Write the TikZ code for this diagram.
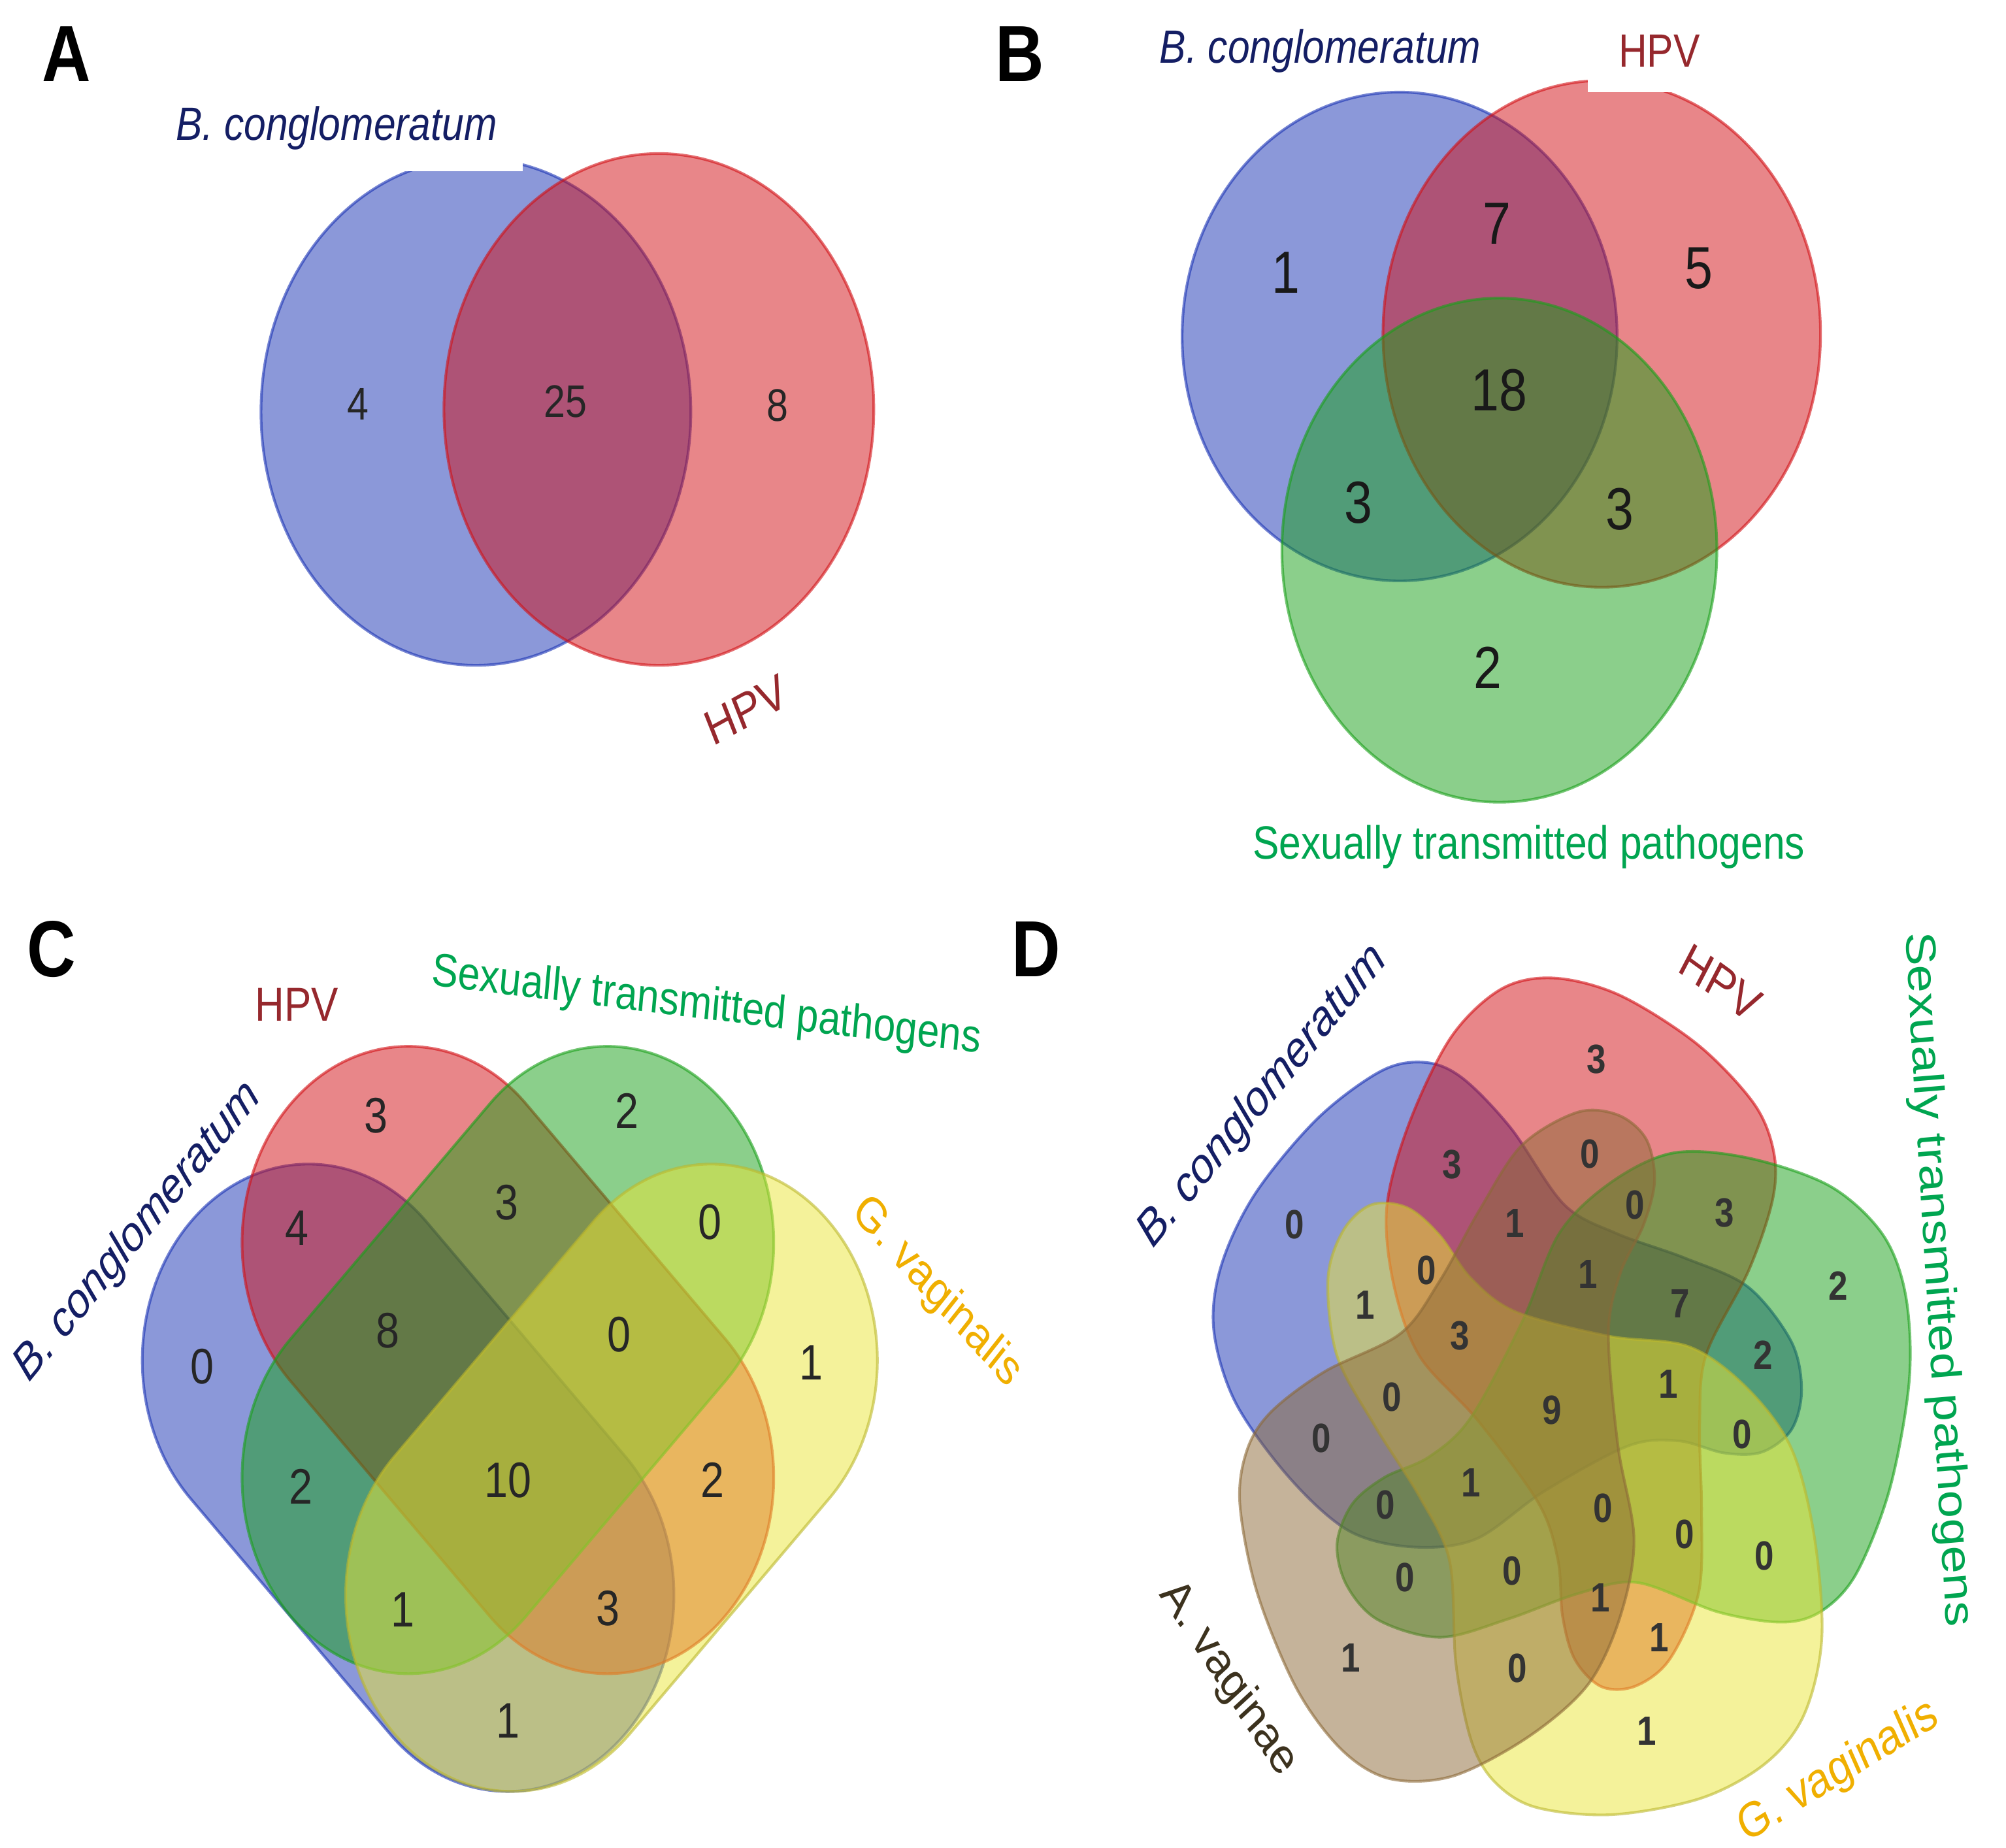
\documentclass[tikz,border=0pt]{standalone}
\usepackage{fontspec}
\setmainfont{Liberation Sans}

\definecolor{vblue}{RGB}{25,50,180}
\definecolor{vred}{RGB}{210,15,20}
\definecolor{vgreen}{RGB}{25,160,25}
\definecolor{vyellow}{RGB}{235,230,55}
\definecolor{vbrown}{RGB}{140,105,55}
\definecolor{tblue}{RGB}{20,30,100}
\definecolor{tred}{RGB}{150,40,45}
\definecolor{tgreen}{RGB}{0,165,80}
\definecolor{tgold}{RGB}{240,175,0}
\definecolor{tbrown}{RGB}{60,50,30}

\tikzset{
 venn/.style={line width=0.6pt, fill opacity=0.5, draw opacity=0.6},
 lbl/.style={yscale=1.18, inner sep=1pt, font=\fontsize{8.8}{10}\selectfont},
 panel/.style={yscale=1.18, font=\fontsize{15}{16}\selectfont\bfseries},
 numA/.style={yscale=1.18, text=black!85, font=\fontsize{8.6}{9}\selectfont},
 numB/.style={yscale=1.18, text=black!90, font=\fontsize{11.2}{12}\selectfont},
 numC/.style={yscale=1.18, text=black!85, font=\fontsize{9.4}{10}\selectfont},
 numD/.style={yscale=1.18, text=black!80, font=\fontsize{7.7}{8}\selectfont\bfseries},
}

% capsule of the four-set diagram (unstretched, around its centre)
\newcommand{\capsulepath}{(-1.1,-1.3) -- (1.1,-1.3) arc[start angle=-90, end angle=90, radius=1.3]
 -- (-1.1,1.3) arc[start angle=90, end angle=270, radius=1.3] -- cycle}

% one petal of the five-set diagram (unstretched, around its centre)
\newcommand{\petalpath}{plot[smooth cycle, tension=0.55] coordinates {
 (-1.41,1.30) (-1.13,1.28) (-0.88,1.10) (-0.63,0.81) (-0.28,0.59) (0.44,0.43)
 (1.07,0.36) (1.52,0.09) (1.87,-0.31) (2.05,-0.89) (2.11,-1.57) (1.97,-2.08)
 (1.67,-2.40) (1.17,-2.63) (0.47,-2.74) (-0.13,-2.69) (-0.45,-2.52) (-0.63,-2.25)
 (-0.75,-1.74) (-0.80,-1.06) (-1.03,-0.64) (-1.38,-0.17) (-1.68,0.30) (-1.75,0.81)
 (-1.63,1.13)}}

\begin{document}
\begin{tikzpicture}
 \fill[white] (0,0) rectangle (15.68,-14.44);
 \useasboundingbox (0,0) rectangle (15.68,-14.44);

 % A
 \node[panel] (pA) at (0.52,-0.42) {A};
 \draw[venn, vblue, fill=vblue] (3.72,-3.22) ellipse (1.68 and 1.98);
 \draw[venn, vred, fill=vred] (5.15,-3.20) ellipse (1.68 and 2.00);
 \node[lbl, text=tblue, fill=white, minimum width=2.91cm, minimum height=0.57cm] (bcA) at (2.63,-1.00) {\itshape B. conglomeratum};
 \node[lbl, text=tred, rotate=25, font=\fontsize{9.3}{10}\selectfont] (hpvA) at (5.83,-5.55) {HPV};
 \node[numA] (a1) at (2.80,-3.16) {4};
 \node[numA] (a2) at (4.42,-3.14) {25};
 \node[numA] (a3) at (6.08,-3.17) {8};

 % B
 \node[panel] (pB) at (7.97,-0.42) {B};
 \draw[venn, vblue, fill=vblue] (10.94,-2.63) ellipse (1.70 and 1.91);
 \draw[venn, vred, fill=vred] (12.52,-2.61) ellipse (1.71 and 1.98);
 \draw[venn, vgreen, fill=vgreen] (11.72,-4.30) ellipse (1.70 and 1.97);
 \node[lbl, text=tblue] (bcB) at (10.32,-0.40) {\itshape B. conglomeratum};
 \node[lbl, text=tred, fill=white, minimum width=1.12cm, minimum height=0.54cm] (hpvB) at (12.97,-0.40) {HPV};
 \node[lbl, text=tgreen] (stpB) at (11.95,-6.62) {Sexually transmitted pathogens};
 \node[numB] (b1) at (10.05,-2.13) {1};
 \node[numB] (b2) at (11.70,-1.75) {7};
 \node[numB] (b3) at (13.28,-2.10) {5};
 \node[numB] (b4) at (11.72,-3.05) {18};
 \node[numB] (b5) at (10.62,-3.93) {3};
 \node[numB] (b6) at (12.66,-3.98) {3};
 \node[numB] (b7) at (11.63,-5.22) {2};

 % C
 \node[panel] (pC) at (0.40,-7.42) {C};
 \begin{scope}[shift={(3.19,-11.55)}, yscale=1.18, rotate=-45]
  \draw[venn, vblue, fill=vblue] \capsulepath;
 \end{scope}
 \begin{scope}[shift={(3.97,-10.63)}, yscale=1.18, rotate=-45]
  \draw[venn, vred, fill=vred] \capsulepath;
 \end{scope}
 \begin{scope}[shift={(3.97,-10.63)}, yscale=1.18, rotate=45]
  \draw[venn, vgreen, fill=vgreen] \capsulepath;
 \end{scope}
 \begin{scope}[shift={(4.78,-11.55)}, yscale=1.18, rotate=45]
  \draw[venn, vyellow!80!black, fill=vyellow] \capsulepath;
 \end{scope}
 \node[lbl, text=tred, font=\fontsize{9}{10}\selectfont] (hpvC) at (2.32,-7.85) {HPV};
 \node[lbl, text=tgreen, rotate=-6] (stpC) at (5.52,-7.87) {Sexually transmitted pathogens};
 \node[lbl, text=tblue, rotate=46, font=\fontsize{9.2}{10}\selectfont] (bcC) at (1.08,-9.63) {\itshape B. conglomeratum};
 \node[lbl, text=tgold, rotate=-43, font=\fontsize{9.2}{10}\selectfont] (gvC) at (7.32,-10.10) {G. vaginalis};
 \node[numC] (c1) at (2.94,-8.72) {3};
 \node[numC] (c2) at (4.90,-8.68) {2};
 \node[numC] (c3) at (2.32,-9.60) {4};
 \node[numC] (c4) at (3.96,-9.40) {3};
 \node[numC] (c5) at (5.55,-9.55) {0};
 \node[numC] (c6) at (1.58,-10.68) {0};
 \node[numC] (c7) at (3.03,-10.40) {8};
 \node[numC] (c8) at (4.84,-10.43) {0};
 \node[numC] (c9) at (6.34,-10.65) {1};
 \node[numC] (c10) at (2.35,-11.62) {2};
 \node[numC] (c11) at (3.97,-11.57) {10};
 \node[numC] (c12) at (5.57,-11.57) {2};
 \node[numC] (c13) at (3.15,-12.58) {1};
 \node[numC] (c14) at (4.75,-12.57) {3};
 \node[numC] (c15) at (3.97,-13.45) {1};

 % D
 \node[panel] (pD) at (8.10,-7.42) {D};
 \begin{scope}[shift={(12.18,-10.95)}, yscale=1.22, rotate=216, scale=0.97, yscale=0.967]
  \draw[venn, vblue, fill=vblue] \petalpath;
 \end{scope}
 \begin{scope}[shift={(12.13,-11.01)}, yscale=1.22, rotate=144, scale=0.965, yscale=0.967]
  \draw[venn, vred, fill=vred] \petalpath;
 \end{scope}
 \begin{scope}[shift={(12.13,-11.01)}, yscale=1.22, rotate=69, yscale=0.967]
  \draw[venn, vgreen, fill=vgreen] \petalpath;
 \end{scope}
 \begin{scope}[shift={(12.13,-10.95)}, yscale=1.18]
  \draw[venn, vyellow!80!black, fill=vyellow] \petalpath;
 \end{scope}
 \begin{scope}[shift={(12.13,-10.95)}, yscale=1.22, rotate=288, scale=0.97, yscale=0.967]
  \draw[venn, vbrown, fill=vbrown] \petalpath;
 \end{scope}
 \node[lbl, text=tblue, rotate=46, font=\fontsize{9.3}{10}\selectfont] (bcD) at (9.87,-8.57) {\itshape B. conglomeratum};
 \node[lbl, text=tred, rotate=-31.6, font=\fontsize{9.3}{10}\selectfont] (hpvD) at (13.45,-7.68) {HPV};
 \node[lbl, text=tgreen, rotate=-86, font=\fontsize{9.4}{10}\selectfont] (stpD) at (15.14,-10.00) {Sexually transmitted pathogens};
 \node[lbl, text=tbrown, rotate=-52, font=\fontsize{9.3}{10}\selectfont] (avD) at (9.60,-13.12) {A. vaginae};
 \node[lbl, text=tgold, rotate=27.5, font=\fontsize{9.3}{10}\selectfont] (gvD) at (14.37,-13.85) {G. vaginalis};
 \node[numD] (d1) at (12.48,-8.28) {3};
 \node[numD] (d2) at (11.35,-9.10) {3};
 \node[numD] (d3) at (12.43,-9.02) {0};
 \node[numD] (d4) at (10.12,-9.57) {0};
 \node[numD] (d5) at (11.84,-9.56) {1};
 \node[numD] (d6) at (12.78,-9.42) {0};
 \node[numD] (d7) at (13.48,-9.48) {3};
 \node[numD] (d8) at (11.15,-9.93) {0};
 \node[numD] (d9) at (10.67,-10.20) {1};
 \node[numD] (d10) at (12.41,-9.96) {1};
 \node[numD] (d11) at (13.13,-10.19) {7};
 \node[numD] (d12) at (14.37,-10.05) {2};
 \node[numD] (d13) at (11.41,-10.44) {3};
 \node[numD] (d14) at (13.78,-10.59) {2};
 \node[numD] (d15) at (10.88,-10.92) {0};
 \node[numD] (d16) at (13.04,-10.82) {1};
 \node[numD] (d17) at (12.13,-11.02) {9};
 \node[numD] (d18) at (10.33,-11.24) {0};
 \node[numD] (d19) at (13.62,-11.21) {0};
 \node[numD] (d20) at (11.50,-11.59) {1};
 \node[numD] (d21) at (10.83,-11.76) {0};
 \node[numD] (d22) at (12.53,-11.79) {0};
 \node[numD] (d23) at (13.17,-11.99) {0};
 \node[numD] (d24) at (13.79,-12.16) {0};
 \node[numD] (d25) at (10.98,-12.33) {0};
 \node[numD] (d26) at (11.82,-12.28) {0};
 \node[numD] (d27) at (12.51,-12.49) {1};
 \node[numD] (d28) at (12.97,-12.80) {1};
 \node[numD] (d29) at (10.56,-12.96) {1};
 \node[numD] (d30) at (11.86,-13.04) {0};
 \node[numD] (d31) at (12.87,-13.53) {1};
\end{tikzpicture}
\end{document}
